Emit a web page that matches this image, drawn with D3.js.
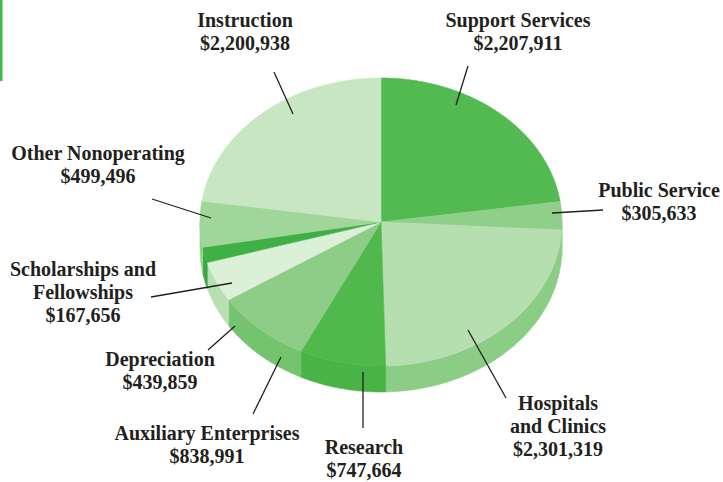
<!DOCTYPE html>
<html>
<head>
<meta charset="utf-8">
<script src="https://cdn.jsdelivr.net/npm/d3@7"></script>
<style>
  body { margin: 0; background: #fff; }
  svg { display: block; }
  .lbl { font-family: "Liberation Serif", "Times New Roman", serif; font-weight: bold; font-size: 20px; fill: #231f20; }
</style>
</head>
<body>
<div id="vis"></div>
<script>
// ---- data ----
const categories = ["Support Services", "Public Service", "Hospitals and Clinics", "Research",
  "Auxiliary Enterprises", "Depreciation", "Scholarships and Fellowships", "Other Nonoperating", "Instruction"];
const values = [2207911, 305633, 2301319, 747664, 838991, 439859, 167656, 499496, 2200938];
const labelLines = [["Support Services"], ["Public Service"], ["Hospitals", "and Clinics"], ["Research"],
  ["Auxiliary Enterprises"], ["Depreciation"], ["Scholarships and", "Fellowships"], ["Other Nonoperating"], ["Instruction"]];

// ---- styles ----
const topColors  = ["#53b951", "#8fcf89", "#b5dfae", "#50b84d", "#8dcd87", "#dcefd7", "#3eb046", "#a0d69a", "#c8e6c1"];
const sideColors = ["#4aa948", "#7fc679", "#8bcd85", "#4ab347", "#74c36f", "#b7dfb1", "#39a842", "#93d28d", "#b0dcaa"];

// label placement (text anchor point, leader line from slice to label)
const labelLayout = [
  { x: 518, y: 27,  leader: [456, 105, 468, 66] },
  { x: 659, y: 197, leader: [552, 213, 603, 210] },
  { x: 558, y: 410, leader: [468, 330, 506, 398] },
  { x: 364, y: 454, leader: [363, 372, 363, 428] },
  { x: 207, y: 440, leader: [281, 357, 253, 414] },
  { x: 160, y: 366, leader: [235, 326, 208, 350] },
  { x: 83,  y: 276, leader: [232, 283, 151, 297] },
  { x: 98,  y: 160, leader: [211, 218, 152, 199] },
  { x: 245, y: 27,  leader: [293, 114, 274, 72] }
];

const width = 723, height = 482;
const cx = 381, cy = 222, rx = 181, ry = 144, depth = 26;
const lineH = 23;

const svg = d3.select('#vis').append('svg')
  .attr('width', width)
  .attr('height', height);

// green tab at top-left
svg.append('rect')
  .attr('x', 0).attr('y', 0)
  .attr('width', 2.5).attr('height', 81)
  .attr('fill', '#3dba4a');

const pie = d3.pie().sort(null).value(d => d).startAngle(0).endAngle(2 * Math.PI);
const arcs = pie(values);

function pt(a, dz = 0) {
  return [cx + rx * Math.sin(a), cy - ry * Math.cos(a) + dz];
}
function arcPoints(a0, a1, dz = 0) {
  const n = Math.max(2, Math.ceil((a1 - a0) / 0.01));
  const pts = [];
  for (let i = 0; i <= n; i++) pts.push(pt(a0 + (a1 - a0) * i / n, dz));
  return pts;
}
const line = d3.line();

// side walls (front half only)
const sides = svg.append('g');
arcs.forEach((d, i) => {
  const lo = Math.max(d.startAngle, Math.PI / 2);
  const hi = Math.min(d.endAngle, 3 * Math.PI / 2);
  if (lo >= hi) return;
  const pts = arcPoints(lo, hi).concat(arcPoints(lo, hi, depth).reverse());
  sides.append('path')
    .attr('d', line(pts) + 'Z')
    .attr('fill', sideColors[i])
    .attr('stroke', sideColors[i])
    .attr('stroke-width', 0.6);
});

// top faces
const tops = svg.append('g');
arcs.forEach((d, i) => {
  const pts = [[cx, cy]].concat(arcPoints(d.startAngle, d.endAngle));
  tops.append('path')
    .attr('d', line(pts) + 'Z')
    .attr('fill', topColors[i])
    .attr('stroke', topColors[i])
    .attr('stroke-width', 0.6);
});

// leaders and labels
const fmt = d3.format('$,');
const ann = svg.append('g');
categories.forEach((c, i) => {
  const L = labelLayout[i];
  ann.append('line')
    .attr('x1', L.leader[0]).attr('y1', L.leader[1])
    .attr('x2', L.leader[2]).attr('y2', L.leader[3])
    .attr('stroke', '#231f20')
    .attr('stroke-width', 1.3);
  const t = ann.append('text')
    .attr('class', 'lbl')
    .attr('text-anchor', 'middle');
  labelLines[i].concat([fmt(values[i])]).forEach((s, j) => {
    t.append('tspan')
      .attr('x', L.x)
      .attr('y', L.y + j * lineH)
      .text(s);
  });
});
</script>
</body>
</html>
